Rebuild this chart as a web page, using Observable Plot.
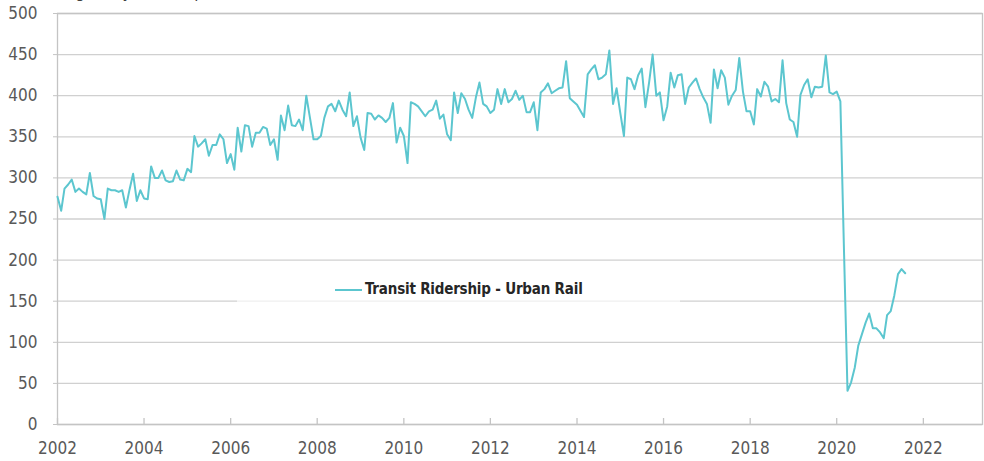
<!DOCTYPE html>
<html><head><meta charset="utf-8">
<script src="https://cdn.jsdelivr.net/npm/d3@7"></script>
<script src="https://cdn.jsdelivr.net/npm/@observablehq/plot@0.6"></script>
<style>
body{margin:0;background:#fff;}
#wrap{position:relative;width:984px;height:461px;overflow:hidden;font-family:"Liberation Sans Narrow","Arial Narrow","DejaVu Sans Condensed",sans-serif;}
#title{position:absolute;left:57px;top:-19px;font-size:17px;line-height:20px;color:#404040;white-space:nowrap;}
#legend{position:absolute;left:237px;top:274px;width:443px;height:29px;background:rgba(255,255,255,0.65);}
#legend .sw{position:absolute;left:98px;top:15px;width:27px;height:2px;background:#5cc6cf;}
#legend .lb{position:absolute;left:128px;top:6px;font-size:15px;font-weight:bold;color:#262626;white-space:nowrap;letter-spacing:-0.2px;}
</style></head><body>
<div id="wrap"></div>
<script>
// Monthly urban rail ridership (millions), Jan..Dec for each year
const years = [2002,2003,2004,2005,2006,2007,2008,2009,2010,2011,2012,2013,2014,2015,2016,2017,2018,2019,2020,2021];
const r2002 = [277,260,287,292,298,283,287,283,280,306,278,275];
const r2003 = [274,250,287,285,285,283,285,264,286,305,272,285];
const r2004 = [275,274,314,300,300,309,297,295,296,309,298,297];
const r2005 = [311,307,351,338,342,347,327,340,340,353,347,318];
const r2006 = [329,310,361,332,364,363,338,355,355,362,360,340];
const r2007 = [347,322,376,358,388,364,363,371,358,400,373,347];
const r2008 = [347,351,373,387,390,381,394,383,375,404,363,375];
const r2009 = [349,334,379,378,371,376,373,368,373,391,343,361];
const r2010 = [351,318,392,390,387,381,375,381,383,394,372,377];
const r2011 = [353,346,404,379,403,396,383,373,398,416,390,387];
const r2012 = [379,383,408,390,408,392,396,406,395,400,380,380];
const r2013 = [392,358,404,408,415,403,406,409,410,442,397,393];
const r2014 = [389,381,374,426,432,437,420,422,426,455,390,409];
const r2015 = [379,351,422,420,408,425,433,386,416,450,400,404];
const r2016 = [370,387,428,410,425,426,390,410,416,421,408,398];
const r2017 = [390,367,432,409,431,422,389,400,407,446,405,381];
const r2018 = [381,365,408,399,417,411,393,396,392,443,391,371];
const r2019 = [368,350,401,413,420,398,411,410,411,449,404,402];
const r2020 = [405,393,220,41,51,69,96,110,124,135,117,117];
const r2021 = [112,105,133,138,157,183,189,184];
const series = [r2002,r2003,r2004,r2005,r2006,r2007,r2008,r2009,r2010,r2011,r2012,r2013,r2014,r2015,r2016,r2017,r2018,r2019,r2020,r2021];
const yTicks = [0,50,100,150,200,250,300,350,400,450,500];
const xTickYears = [2002,2004,2006,2008,2010,2012,2014,2016,2018,2020,2022];
const seriesName = "Transit Ridership - Urban Rail";
const titleText = "Avg. daily ridership (millions)";

const data = [];
series.forEach((arr, i) => arr.forEach((v, m) => data.push({date: new Date(years[i], m, 1), value: v})));
const xTicks = xTickYears.map(y => new Date(y, 0, 1));

const W = 984, H = 461, mL = 57, mR = 2, mT = 13, mB = 37;
const lineColor = "#5cc6cf", gridColor = "#d0d0d0", textColor = "#595959";

const chart = Plot.plot({
  width: W, height: H,
  marginLeft: mL, marginRight: mR, marginTop: mT, marginBottom: mB,
  style: {fontFamily: '"Liberation Sans Narrow","Arial Narrow","DejaVu Sans Condensed",sans-serif', fontSize: "17px", color: textColor, background: "#fff"},
  x: {type: "time", domain: [new Date(2002, 0, 1), new Date(2023, 4, 15)], label: null},
  y: {domain: [0, 500], label: null},
  marks: [
    Plot.gridY(yTicks, {stroke: gridColor, strokeOpacity: 1, strokeWidth: 1.3}),
    Plot.frame({stroke: "#c4c4c4", strokeWidth: 1.3}),
    Plot.axisY(yTicks, {tickSize: 4, tickPadding: 16, stroke: "#c4c4c4", fill: textColor, fontSize: 17, label: null}),
    Plot.tickX(xTicks, {x: d => d, stroke: "#c4c4c4", strokeWidth: 1.3, insetTop: H - mT - mB - 6}),
    Plot.axisX(xTicks, {tickSize: 0, tickPadding: 17, tickFormat: d3.timeFormat("%Y"), fill: textColor, fontSize: 17, label: null}),
    Plot.lineY(data, {x: "date", y: "value", stroke: lineColor, strokeWidth: 2})
  ]
});
const wrap = document.getElementById("wrap");
wrap.appendChild(chart);
const t = document.createElement("div"); t.id = "title"; t.textContent = titleText; wrap.appendChild(t);
const lg = document.createElement("div"); lg.id = "legend";
lg.innerHTML = '<div class="sw"></div><div class="lb"></div>';
lg.querySelector(".lb").textContent = seriesName;
wrap.appendChild(lg);
</script>
</body></html>
